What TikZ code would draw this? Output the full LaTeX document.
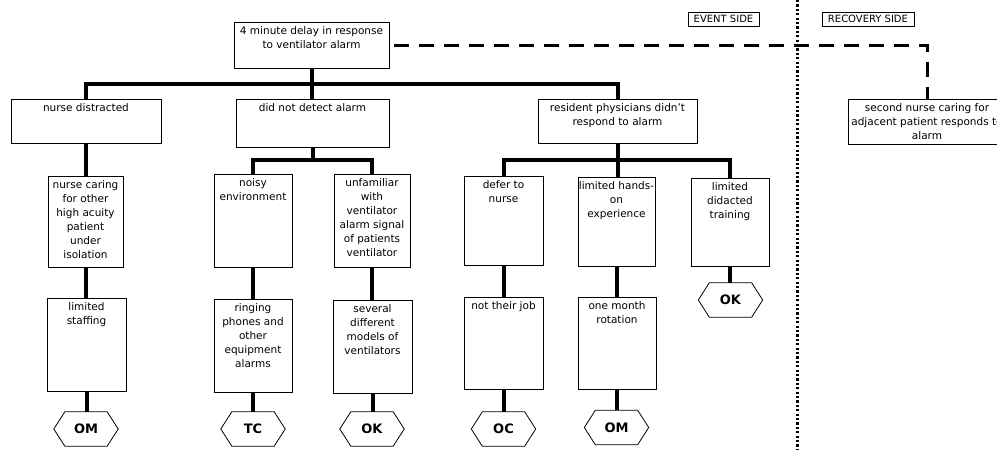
\documentclass[tikz,border=0pt]{standalone}
\usepackage{fontspec}
\setmainfont{DejaVu Sans}
\usetikzlibrary{calc}

% box contents: fixed width and height, text set from the top
\newcommand\cellbox[3]{\parbox[c][#2][t]{#1}{\centering\rule{0pt}{12pt}#3}}

\begin{document}
\begin{tikzpicture}[x=1pt,y=-1pt,
  cell/.style={draw,line width=0.8pt,inner sep=0pt,
    font=\fontsize{10.5}{14}\selectfont},
  tag/.style={draw,line width=0.8pt,inner sep=0pt,minimum height=14pt,
    font=\fontsize{10}{11}\selectfont},
  hexbox/.style={inner sep=0pt,minimum width=64pt,minimum height=34pt,
    font=\fontsize{13}{14}\selectfont\bfseries},
  conn/.style={line width=4pt,line join=miter},
  dashline/.style={line width=3pt,dash pattern=on 15pt off 10pt,dash phase=-5pt},
  dotline/.style={line width=3pt,dash pattern=on 2.2pt off 2.2pt}
]
\useasboundingbox (0,0) rectangle (997,450);
\clip (0,0) rectangle (997,450);

% event / recovery divider
\coordinate (divtop) at (797,0);
\coordinate (divbot) at (797,450);
\draw[dotline] (divtop) -- (divbot);
\node[tag,minimum width=71pt] (ev) at (723.5,19) {EVENT SIDE};
\node[tag,minimum width=92pt] (rc) at (868,19) {RECOVERY SIDE};

% top event
\node[cell] (top) at (311.5,45) {\cellbox{155pt}{46pt}{4 minute delay in response\\to ventilator alarm}};

% first level
\node[cell] (nd) at (86,121) {\cellbox{150pt}{44pt}{nurse distracted}};
\node[cell] (dd) at (312.5,123) {\cellbox{153pt}{48pt}{did not detect alarm}};
\node[cell] (res) at (617.5,121) {\cellbox{159pt}{44pt}{resident physicians didn't\\respond to alarm}};
\node[cell] (sn) at (927,121.5) {\cellbox{158pt}{45pt}{second nurse caring for\\adjacent patient responds to\\alarm}};

% second level
\node[cell] (nc) at (85.5,221.5) {\cellbox{75pt}{91pt}{nurse caring\\for other\\high acuity\\patient\\under\\isolation}};
\node[cell] (ne) at (253,220.5) {\cellbox{78pt}{93pt}{noisy\\environment}};
\node[cell] (uf) at (372,220.5) {\cellbox{76pt}{93pt}{unfamiliar\\with\\ventilator\\alarm signal\\of patients\\ventilator}};
\node[cell] (df) at (503.5,220.5) {\cellbox{79pt}{89pt}{defer to\\nurse}};
\node[cell] (hn) at (616.5,221.5) {\cellbox{77pt}{89pt}{limited hands-\\on\\experience}};
\node[cell] (dt) at (730,222) {\cellbox{78pt}{88pt}{limited\\didacted\\training}};

% third level
\node[cell] (ls) at (86.5,344.5) {\cellbox{79pt}{93pt}{limited\\staffing}};
\node[cell] (rp) at (253,345.5) {\cellbox{78pt}{93pt}{ringing\\phones and\\other\\equipment\\alarms}};
\node[cell] (sd) at (372.5,346.5) {\cellbox{79pt}{93pt}{several\\different\\models of\\ventilators}};
\node[cell] (nj) at (503.5,343) {\cellbox{79pt}{92pt}{not their job}};
\node[cell] (om) at (617,343) {\cellbox{78pt}{92pt}{one month\\rotation}};

% classification hexagons
\node[hexbox] (h1) at (86,429) {OM};
\node[hexbox] (h2) at (253,429) {TC};
\node[hexbox] (h3) at (372,429) {OK};
\node[hexbox] (h4) at (503.5,429) {OC};
\node[hexbox] (h5) at (616.5,427.5) {OM};
\node[hexbox] (h6) at (730.5,300) {OK};
\foreach \h in {h1,h2,h3,h4,h5,h6}{
  \draw[line width=0.8pt] (\h.west) -- ([xshift=11pt]\h.north west)
    -- ([xshift=-11pt]\h.north east) -- (\h.east)
    -- ([xshift=-11pt]\h.south east) -- ([xshift=11pt]\h.south west) -- cycle;
}

% bus heights
\coordinate (b1) at (0,84);
\coordinate (b2) at (0,160);

% first-level connectors
\draw[conn] (top.south) -- (top.south |- dd.north);
\draw[conn] (nd.north) -- (nd.north |- b1) -- (res.north |- b1) -- (res.north);

% nurse distracted branch
\draw[conn] (nd.south) -- (nd.south |- nc.north);
\draw[conn] (nc.south) -- (nc.south |- ls.north);
\draw[conn] (ls.south) -- (ls.south |- h1.north);

% did not detect branch
\draw[conn] (dd.south) -- (dd.south |- b2);
\draw[conn] (ne.north) -- (ne.north |- b2) -- (uf.north |- b2) -- (uf.north);
\draw[conn] (ne.south) -- (ne.south |- rp.north);
\draw[conn] (rp.south) -- (rp.south |- h2.north);
\draw[conn] (uf.south) -- (uf.south |- sd.north);
\draw[conn] (sd.south) -- (sd.south |- h3.north);

% resident physicians branch
\draw[conn] (res.south) -- (res.south |- hn.north);
\draw[conn] (df.north) -- (df.north |- b2) -- (dt.north |- b2) -- (dt.north);
\draw[conn] (df.south) -- (df.south |- nj.north);
\draw[conn] (nj.south) -- (nj.south |- h4.north);
\draw[conn] (hn.south) -- (hn.south |- om.north);
\draw[conn] (om.south) -- (om.south |- h5.north);
\draw[conn] (dt.south) -- (dt.south |- h6.north);

% recovery path
\draw[dashline] (top.east) -- (top.east -| sn.north) -- (sn.north);
\end{tikzpicture}
\end{document}
